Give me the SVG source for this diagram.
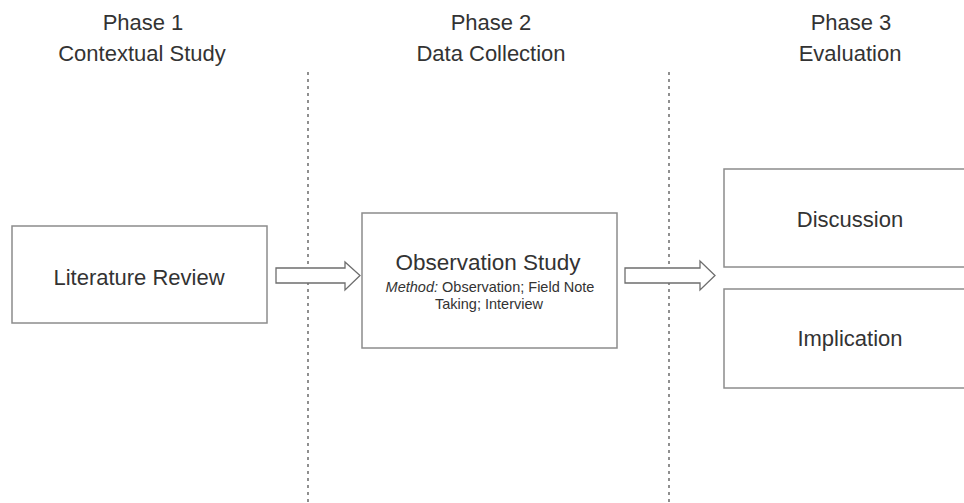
<svg xmlns="http://www.w3.org/2000/svg" width="964" height="503" viewBox="0 0 964 503">
<style>
text{font-family:"Liberation Sans",Arial,sans-serif;fill:#333;text-anchor:middle}
.h{font-size:22px}
.b{fill:#fff;stroke:#8c8c8c;stroke-width:1.5}
.arr{fill:#fff;stroke:#6e6e6e;stroke-width:1.3;stroke-linejoin:miter}
.div{stroke:#555;stroke-width:1.3;stroke-dasharray:3 4;fill:none}
</style>
<rect width="964" height="503" fill="#fff"/>
<g id="headers">
<text class="h" x="143" y="30">Phase 1</text>
<text class="h" x="142" y="61">Contextual Study</text>
<text class="h" x="491" y="30">Phase 2</text>
<text class="h" x="491" y="61">Data Collection</text>
<text class="h" x="851" y="30">Phase 3</text>
<text class="h" x="850" y="61">Evaluation</text>
</g>
<g id="dividers">
<line class="div" x1="308" y1="72" x2="308" y2="503"/>
<line class="div" x1="669" y1="72" x2="669" y2="503"/>
</g>
<g id="literature-review">
<rect class="b" x="12" y="226" width="255" height="97"/>
<text class="h" x="139" y="285">Literature Review</text>
</g>
<g id="observation-study">
<rect class="b" x="362" y="213" width="255" height="135"/>
<text x="488" y="270" style="font-size:22.5px">Observation Study</text>
<text x="490" y="292" style="font-size:14.5px"><tspan font-style="italic">Method:</tspan> Observation; Field Note</text>
<text x="489" y="309" style="font-size:14.5px">Taking; Interview</text>
</g>
<g id="discussion">
<rect class="b" x="724" y="169" width="256" height="98"/>
<text class="h" x="850" y="227">Discussion</text>
</g>
<g id="implication">
<rect class="b" x="724" y="289" width="256" height="99"/>
<text class="h" x="850" y="346">Implication</text>
</g>
<g id="connectors">
<path class="arr" d="M276 268 H345 V262 L360 275.5 L345 290 V283 H276 Z"/>
<path class="arr" d="M625 268 H700 V261 L715 275.5 L700 290 V283 H625 Z"/>
</g>
</svg>
